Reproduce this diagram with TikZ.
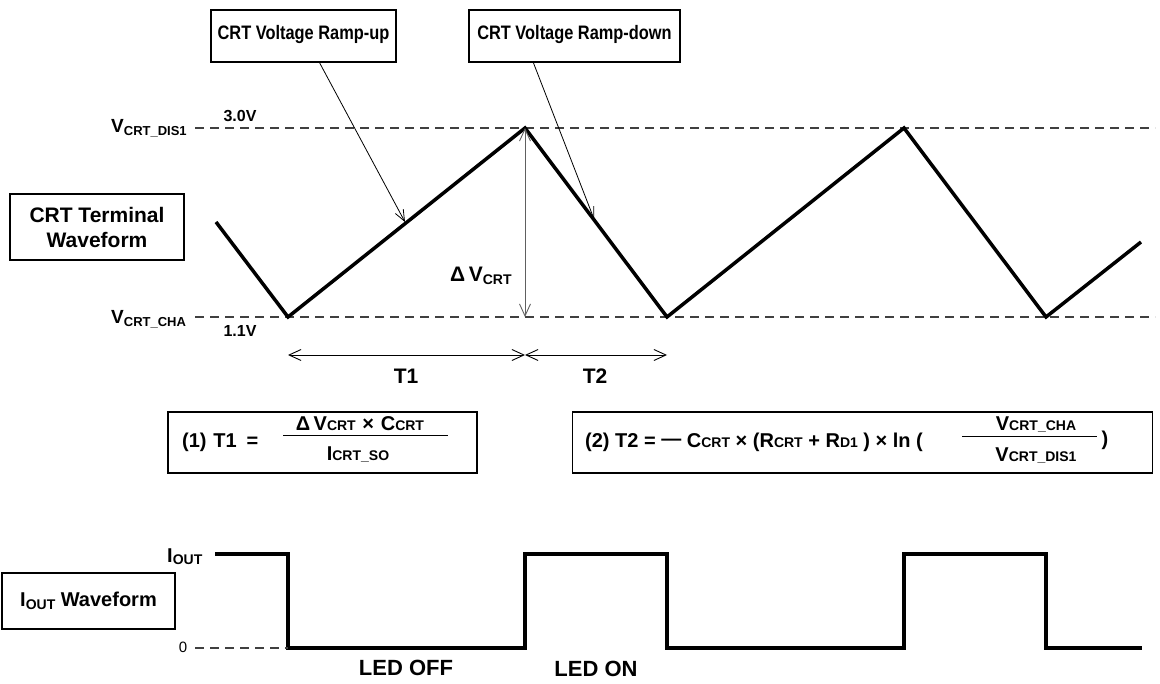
\documentclass[tikz,border=0pt]{standalone}
\usepackage{fontspec}
\setmainfont{Liberation Sans}
\newfontfamily\narrowfont{Liberation Sans}[FakeStretch=0.84]
\usetikzlibrary{arrows.meta}
\newcommand{\fsz}[1]{\fontsize{#1}{#1}\selectfont}
\newcommand{\smc}[1]{{\fsz{14}#1}}
\newcommand{\lsub}[1]{\raisebox{-2.5pt}{\fsz{13}#1}}
\begin{document}
\begin{tikzpicture}[x=1pt,y=-1pt,
  box/.style={draw, line width=1.4pt, inner sep=0pt, font=\bfseries},
  txt/.style={inner sep=0pt, font=\bfseries},
  wave/.style={line width=3.5pt},
  guide/.style={line width=1.1pt, dash pattern=on 9pt off 6pt, black!75},
  pointer/.style={line width=0.8pt, -{Straight Barb[length=11pt,width=9pt,line width=0.8pt]}},
  dim/.style={line width=0.9pt, {Straight Barb[length=12pt,width=11pt,line width=0.9pt]}-{Straight Barb[length=12pt,width=11pt,line width=0.9pt]}},
  fracline/.style={line width=1pt}
]
\useasboundingbox (0,0) rectangle (1160,684);

% top label boxes
\node[box, minimum width=185pt, minimum height=52pt, text depth=6pt, text height=14pt] (b1) at (303.5,36) {\narrowfont\bfseries\fsz{19.5}CRT Voltage Ramp-up};
\node[box, minimum width=211pt, minimum height=52pt, text depth=6pt, text height=14pt] (b2) at (574.5,36) {\narrowfont\bfseries\fsz{19.5}CRT Voltage Ramp-down};
\node[box, minimum width=174pt, minimum height=66pt, align=center, font=\bfseries\fontsize{21}{25}\selectfont] (bw) at (97,227) {CRT Terminal\\Waveform};

% guide lines
\coordinate (g1l) at (195,128); \coordinate (g1r) at (1155,128);
\coordinate (g2l) at (195,317); \coordinate (g2r) at (1155,317);
\draw[guide] (g1l) -- (g1r);
\draw[guide] (g2l) -- (g2r);

% CRT waveform
\coordinate (w0) at (216,222);
\coordinate (w1) at (288,317);
\coordinate (w2) at (525,128);
\coordinate (w3) at (667,317);
\coordinate (w4) at (904,128);
\coordinate (w5) at (1046,317);
\coordinate (w6) at (1141,242);
\draw[wave] (w0) -- (w1) -- (w2) -- (w3) -- (w4) -- (w5) -- (w6);

% level labels
\node[txt, anchor=base west] (vdis) at (111,133) {\fsz{19}V\lsub{CRT\_DIS1}};
\node[txt, anchor=base west] (vcha) at (111,324) {\fsz{19}V\lsub{CRT\_CHA}};
\node[txt] (v30) at (240,116) {\fsz{16}3.0V};
\node[txt] (v11) at (240,331) {\fsz{16}1.1V};

% pointers
\coordinate (p1) at (405,222);
\coordinate (p2) at (594,219);
\draw[pointer] (b1.-59) -- (p1);
\draw[pointer] (b2.-147.3) -- (p2);

% delta V
\coordinate (dvb) at (525,317);
\draw[dim, gray!75!black] (w2) -- (dvb);
\node[txt, anchor=base west] (dv) at (450,282) {\fsz{21}Δ\,V\lsub{\fsz{14}CRT}};

% T1 T2
\coordinate (t0) at (288,355);
\coordinate (t1) at (525,355);
\coordinate (t2) at (667,355);
\draw[dim] (t0) -- (t1);
\draw[dim] (t1) -- (t2);
\node[txt] (T1) at (406,376) {\fsz{21}T1};
\node[txt] (T2) at (595,376) {\fsz{21}T2};

% formula 1
\node[box, minimum width=309pt, minimum height=61pt] (f1) at (322.5,442.5) {};
\node[txt, anchor=west] (f1a) at (182,442) {\fsz{20}(1)\,\,T1\,\,\,=};
\coordinate (f1l) at (283,436); \coordinate (f1r) at (448,436);
\draw[fracline] (f1l) -- (f1r);
\node[txt] (f1n) at (360,424) {\fsz{20}Δ\,V\smc{CRT}\,\,×\,\,C\smc{CRT}};
\node[txt] (f1d) at (358,454) {\fsz{20}I\smc{CRT\_SO}};

% formula 2
\node[box, minimum width=580pt, minimum height=61pt] (f2) at (862.5,442.5) {};
\node[txt, anchor=west] (f2a) at (585,442) {\fsz{20}(2) T2 = \raisebox{1.5pt}{—} C\smc{CRT} × (R\smc{CRT} + R\smc{D1} ) × ln (};
\coordinate (f2l) at (962,437); \coordinate (f2r) at (1097,437);
\draw[fracline] (f2l) -- (f2r);
\node[txt] (f2n) at (1036,424) {\fsz{20}V\smc{CRT\_CHA}};
\node[txt] (f2d) at (1036,455) {\fsz{20}V\smc{CRT\_DIS1}};
\node[txt] (f2c) at (1105,440) {\fsz{20})};

% IOUT waveform
\coordinate (i0) at (215,554);
\coordinate (i1) at (288,554);
\coordinate (i2) at (288,648);
\coordinate (i3) at (525,648);
\coordinate (i4) at (525,554);
\coordinate (i5) at (667,554);
\coordinate (i6) at (667,648);
\coordinate (i7) at (904,648);
\coordinate (i8) at (904,554);
\coordinate (i9) at (1046,554);
\coordinate (i10) at (1046,648);
\coordinate (i11) at (1142,648);
\draw[wave, line width=3.2pt] (i0) -- (i1) -- (i2) -- (i3) -- (i4) -- (i5) -- (i6) -- (i7) -- (i8) -- (i9) -- (i10) -- (i11);
\node[txt, anchor=base west] (iout) at (167,562) {\fsz{20}I\lsub{\fsz{14}OUT}};
\node[inner sep=0pt, font=\fsz{15}] (zero) at (183,647) {0};
\coordinate (z0) at (195,648);
\draw[guide] (z0) -- (i2);
\node[txt] (off) at (406,668) {\fsz{22}LED OFF};
\node[txt] (on) at (596,669) {\fsz{22}LED ON};
\node[box, minimum width=173pt, minimum height=56pt] (bi) at (88.5,601) {\fsz{20}I\lsub{\fsz{14}OUT} Waveform};
\end{tikzpicture}
\end{document}
